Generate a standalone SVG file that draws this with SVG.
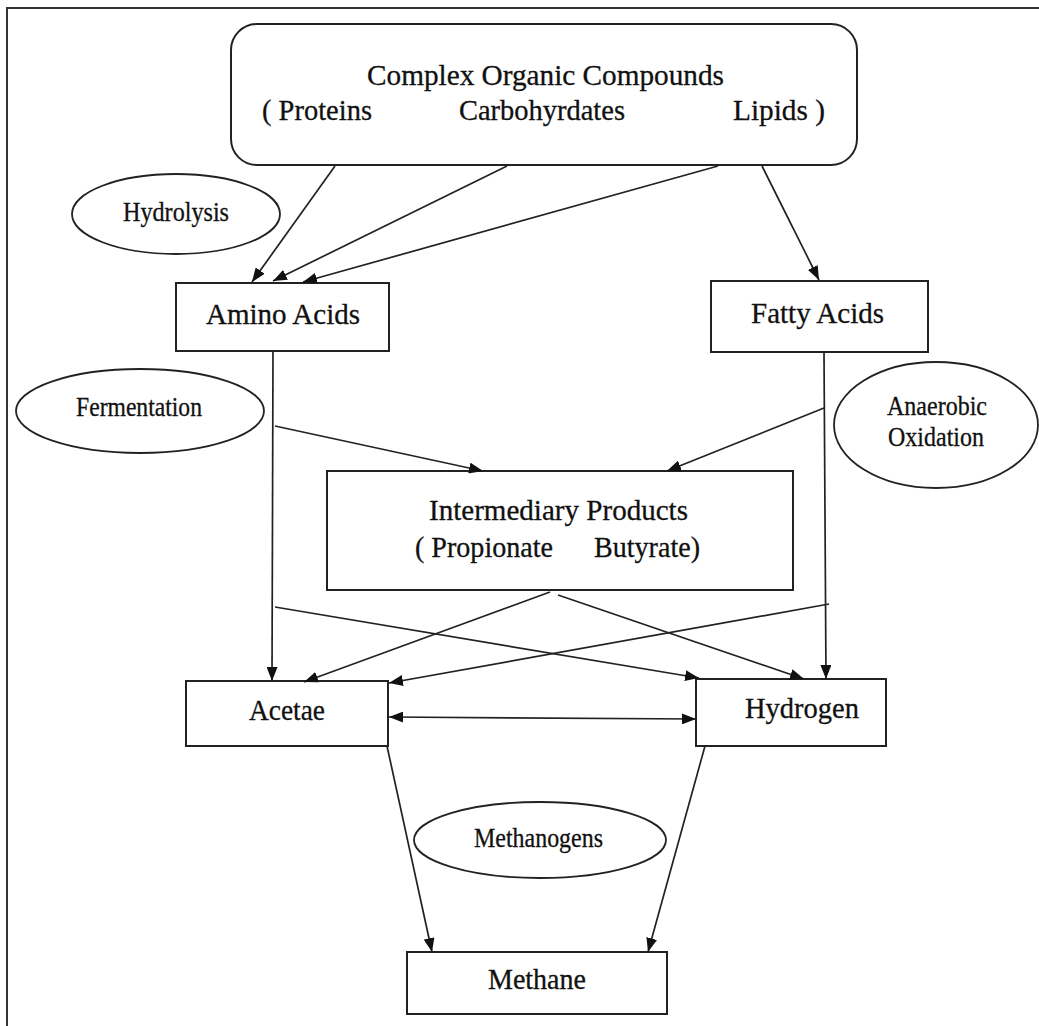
<svg xmlns="http://www.w3.org/2000/svg" width="1039" height="1026" viewBox="0 0 1039 1026">
<defs>
<marker id="ah" viewBox="0 0 14 11" refX="14" refY="5.5" markerWidth="14" markerHeight="11" markerUnits="userSpaceOnUse" orient="auto-start-reverse">
<path d="M0,0 L14,5.5 L0,11 z" fill="#111"/>
</marker>
<style>
.box{fill:#fff;stroke:#222;stroke-width:2}
.ell{fill:#fff;stroke:#222;stroke-width:1.8}
.t{font-family:"Liberation Serif","Times New Roman",serif;fill:#111;stroke:#111;stroke-width:0.3}
.big{font-size:30px}
.sm{font-size:26.5px}
.c line{stroke:#222;stroke-width:1.7;fill:none}
.c .a{marker-end:url(#ah)}
</style>
</defs>
<rect x="0" y="0" width="1039" height="1026" fill="#fff"/>
<rect x="7" y="8" width="1040" height="1030" fill="none" stroke="#333" stroke-width="2"/>

<g id="complex">
<rect class="box" x="231" y="24" width="626" height="141" rx="26"/>
<text class="t big" x="367" y="85" textLength="357" lengthAdjust="spacingAndGlyphs">Complex Organic Compounds</text>
<text class="t big" x="262" y="120" textLength="110" lengthAdjust="spacingAndGlyphs">( Proteins</text>
<text class="t big" x="459" y="120" textLength="166" lengthAdjust="spacingAndGlyphs">Carbohyrdates</text>
<text class="t big" x="733" y="120" textLength="92" lengthAdjust="spacingAndGlyphs">Lipids )</text>
</g>

<g id="hydrolysis">
<ellipse class="ell" cx="176" cy="214" rx="104" ry="40"/>
<text class="t sm" x="123" y="221" textLength="106" lengthAdjust="spacingAndGlyphs">Hydrolysis</text>
</g>

<g id="amino">
<rect class="box" x="176" y="283" width="213" height="68"/>
<text class="t big" x="206" y="324" textLength="154" lengthAdjust="spacingAndGlyphs">Amino Acids</text>
</g>

<g id="fatty">
<rect class="box" x="711" y="281" width="217" height="71"/>
<text class="t big" x="751" y="323" textLength="133" lengthAdjust="spacingAndGlyphs">Fatty Acids</text>
</g>

<g id="fermentation">
<ellipse class="ell" cx="140" cy="411" rx="124" ry="42"/>
<text class="t sm" x="76" y="416" textLength="126" lengthAdjust="spacingAndGlyphs">Fermentation</text>
</g>

<g id="anaerobic">
<ellipse class="ell" cx="936" cy="425" rx="102" ry="63"/>
<text class="t sm" x="887" y="415" textLength="100" lengthAdjust="spacingAndGlyphs">Anaerobic</text>
<text class="t sm" x="888" y="446" textLength="96" lengthAdjust="spacingAndGlyphs">Oxidation</text>
</g>

<g id="intermediary">
<rect class="box" x="327" y="471" width="466" height="119"/>
<text class="t big" x="429" y="520" textLength="259" lengthAdjust="spacingAndGlyphs">Intermediary Products</text>
<text class="t big" x="415" y="557" textLength="138" lengthAdjust="spacingAndGlyphs">( Propionate</text>
<text class="t big" x="594" y="557" textLength="106" lengthAdjust="spacingAndGlyphs">Butyrate)</text>
</g>

<g id="acetae">
<rect class="box" x="186" y="681" width="202" height="65"/>
<text class="t big" x="249" y="720" textLength="76" lengthAdjust="spacingAndGlyphs">Acetae</text>
</g>

<g id="hydrogen">
<rect class="box" x="696" y="679" width="190" height="67"/>
<text class="t big" x="745" y="718" textLength="114" lengthAdjust="spacingAndGlyphs">Hydrogen</text>
</g>

<g id="methanogens">
<ellipse class="ell" cx="540" cy="840" rx="126" ry="38"/>
<text class="t sm" x="474" y="847" textLength="129" lengthAdjust="spacingAndGlyphs">Methanogens</text>
</g>

<g id="methane">
<rect class="box" x="407" y="952" width="260" height="62"/>
<text class="t big" x="488" y="989" textLength="98" lengthAdjust="spacingAndGlyphs">Methane</text>
</g>

<g id="connectors" class="c">
<line class="a" x1="335" y1="166" x2="252" y2="282"/>
<line class="a" x1="507" y1="166" x2="273" y2="281"/>
<line class="a" x1="718" y1="166" x2="303" y2="282"/>
<line class="a" x1="762" y1="166" x2="819" y2="280"/>
<line class="a" x1="273" y1="351" x2="272" y2="681"/>
<line class="a" x1="275" y1="426" x2="483" y2="471"/>
<line class="a" x1="824" y1="352" x2="826" y2="679"/>
<line class="a" x1="824" y1="408" x2="667" y2="471"/>
<line class="a" x1="550" y1="592" x2="304" y2="682"/>
<line class="a" x1="558" y1="595" x2="804" y2="679"/>
<line class="a" x1="275" y1="607" x2="699" y2="678"/>
<line class="a" x1="829" y1="604" x2="389" y2="683"/>
<line class="a" x1="389" y1="717" x2="696" y2="719" style="marker-start:url(#ah)"/>
<line class="a" x1="387" y1="746" x2="432" y2="952"/>
<line class="a" x1="705" y1="746" x2="648" y2="952"/>
</g>
</svg>
